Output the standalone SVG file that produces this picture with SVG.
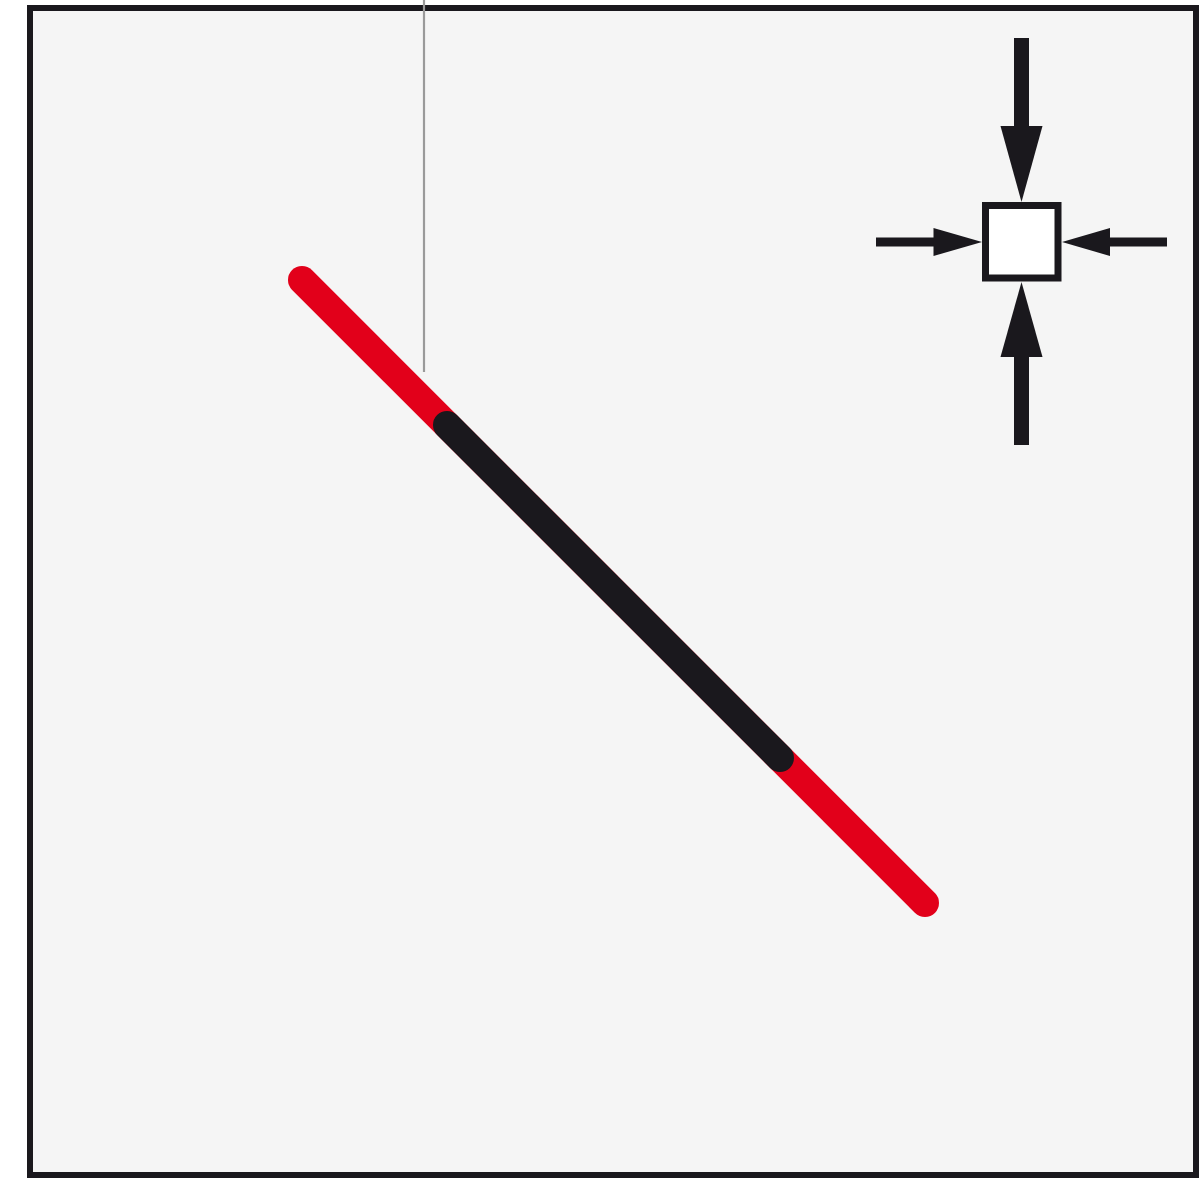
<svg xmlns="http://www.w3.org/2000/svg" width="1204" height="1182" viewBox="0 0 1204 1182">
<style>
.dark{fill:#1a181d}
</style>
<rect x="0" y="0" width="1204" height="1182" fill="#ffffff"/>
<g id="frame">
<rect x="30" y="8" width="1166" height="1167" fill="#f5f5f5" stroke="#1a181d" stroke-width="6"/>
</g>
<g id="connectors">
<line x1="424" y1="0" x2="424" y2="372" stroke="#9a9a9a" stroke-width="2.2"/>
</g>
<g id="red-line">
<line x1="302" y1="280" x2="925" y2="903" stroke="#e2001a" stroke-width="28" stroke-linecap="round"/>
</g>
<g id="black-line">
<line x1="447" y1="425" x2="780" y2="758" stroke="#1a181d" stroke-width="28" stroke-linecap="round"/>
</g>
<g id="icon">
<rect x="985.5" y="205.5" width="72.5" height="72.5" fill="#ffffff" stroke="#1a181d" stroke-width="7"/>
<rect class="dark" x="1014" y="38" width="15" height="90"/>
<polygon class="dark" points="1000.5,126 1042.5,126 1021.5,202"/>
<rect class="dark" x="1014" y="355" width="15" height="90"/>
<polygon class="dark" points="1000.5,357 1042.5,357 1021.5,282"/>
<rect class="dark" x="876" y="237.5" width="59" height="9"/>
<polygon class="dark" points="933.5,228 933.5,256 982,242"/>
<rect class="dark" x="1108" y="237.5" width="59" height="9"/>
<polygon class="dark" points="1110,228 1110,256 1062,242"/>
</g>
</svg>
